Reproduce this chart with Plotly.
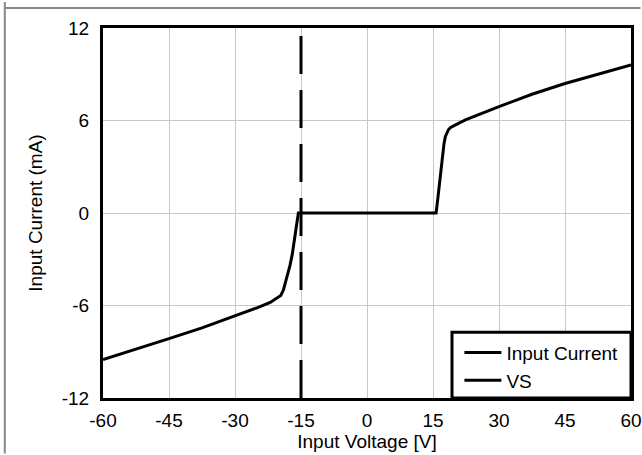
import plotly.graph_objects as go

# Input current curve (V, mA)
voltage = [-60, -52.5, -45, -37.5, -30, -25, -22, -20.5, -19.6, -19.0, -18.5, -18.0, -17.5, -17.0, -16.5, -16.1, -15.8, -15.6,
           -10, 0, 10, 15.5,
           15.7, 16.0, 16.4, 16.8, 17.2, 17.5, 17.8, 18.1, 18.5, 19.0, 19.6, 21, 22.5, 25, 30, 37.5, 45, 52.5, 60]
current = [-9.5, -8.85, -8.15, -7.45, -6.7, -6.15, -5.8, -5.55, -5.35, -5.0, -4.5, -4.0, -3.4, -2.7, -1.8, -1.0, -0.35, 0.0,
           0.0, 0.0, 0.0, 0.0,
           0.0, 0.7, 1.8, 2.9, 3.9, 4.5, 4.95, 5.2, 5.4, 5.55, 5.65, 5.85, 6.05, 6.35, 6.9, 7.7, 8.4, 9.0, 9.6]

# VS marker line
vs_voltage = [-15, -15]
vs_current = [-12, 12]

x_ticks = [-60, -45, -30, -15, 0, 15, 30, 45, 60]
y_ticks = [-12, -6, 0, 6, 12]

FONT = "Liberation Sans, Arial, sans-serif"
FS = 19

fig = go.Figure()
fig.add_trace(go.Scatter(x=voltage, y=current, mode="lines", name="Input Current",
                         line=dict(color="black", width=3)))
fig.add_trace(go.Scatter(x=vs_voltage, y=vs_current, mode="lines", name="VS",
                         line=dict(color="black", width=3, dash="38px,16px")))

axis_common = dict(showline=True, linecolor="black", linewidth=3, mirror=True,
                   showgrid=True, gridcolor="#c8c8c8", gridwidth=1, zeroline=False,
                   automargin=False,
                   ticks="", tickfont=dict(size=FS, color="black", family=FONT),
                   title_font=dict(size=FS, color="black", family=FONT))

fig.update_xaxes(range=[-60, 60], tickvals=x_ticks, ticktext=[str(v) for v in x_ticks],
                 title_text="Input Voltage [V]", title_standoff=1, ticklabelstandoff=3, **axis_common)
fig.update_yaxes(range=[-12, 12], tickvals=y_ticks, ticktext=[str(v) for v in y_ticks],
                 title_text="Input Current (mA)", title_standoff=15, ticklabelstandoff=7, **axis_common)

# legend box
fig.add_shape(type="rect", xref="paper", yref="paper", x0=0.661, x1=1.0, y0=0.0, y1=0.178,
              fillcolor="white", line=dict(color="black", width=3), layer="above")
# outer gray frame lines (kept inside the figure bounds)
fig.add_shape(type="line", xref="paper", yref="paper", x0=-0.186, x1=-0.186, y0=-0.15, y1=1.07,
              line=dict(color="#888888", width=2))
fig.add_shape(type="line", xref="paper", yref="paper", x0=-0.186, x1=1.018, y0=1.054, y1=1.054,
              line=dict(color="#888888", width=2))

fig.update_layout(
    width=642, height=455,
    margin=dict(l=103, r=11, t=28, b=57, autoexpand=False),
    plot_bgcolor="white", paper_bgcolor="white",
    font=dict(family=FONT, size=FS, color="black"),
    legend=dict(x=0.675, y=0.174, xanchor="left", yanchor="top",
                bgcolor="rgba(0,0,0,0)", borderwidth=0, itemwidth=37,
                font=dict(size=FS, family=FONT, color="black")),
    showlegend=True,
)

fig.write_html("out.html", config={"displayModeBar": False},
               post_script="document.body.style.margin='0';document.body.style.overflow='hidden';")
